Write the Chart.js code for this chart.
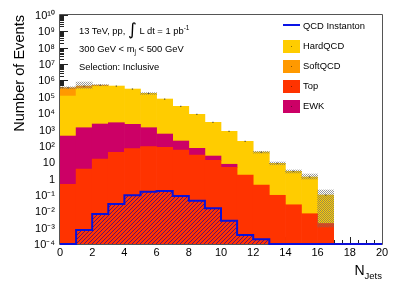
<!DOCTYPE html>
<html><head><meta charset="utf-8">
<script src="https://cdn.jsdelivr.net/npm/chart.js@4.4.0/dist/chart.umd.min.js"></script>
<style>
html,body{margin:0;padding:0;background:#fff;}
#wrap{position:relative;width:398px;height:287px;font-family:"Liberation Sans",Arial,sans-serif;color:#000;overflow:hidden;}
canvas{position:absolute;left:0;top:0;}
.t{position:absolute;white-space:nowrap;font-size:9.4px;line-height:10px;}
.sp{position:relative;line-height:0;vertical-align:baseline;}
.box{position:absolute;width:16.5px;height:13px;}
</style></head><body>
<div id="wrap"><canvas id="c" width="398" height="287"></canvas></div>
<script>
// ---------------- data ----------------
const binCenters = [0.5,1.5,2.5,3.5,4.5,5.5,6.5,7.5,8.5,9.5,10.5,11.5,12.5,13.5,14.5,15.5,16.5,17.5,18.5,19.5];
const binEdges   = [0,1,2,3,4,5,6,7,8,9,10,11,12,13,14,15,16,17,18,19,20];
const xTicks = [0,2,4,6,8,10,12,14,16,18,20];
const yTickExps = [-4,-3,-2,-1,0,1,2,3,4,5,6,7,8,9,10];

const topVals  = [0.45, 3.8, 15.7, 40, 67, 89, 82, 56, 27.5, 13.1, 4.9, 1.65, 0.40, 0.095, 0.025, 0.0071, 0.0018, 0, 0, 0];
const ewkVals  = [398, 1280, 2150, 2560, 2010, 1200, 447, 142, 43, 10.8, 2.6, 0, 0, 0, 0, 0, 0, 0, 0, 0];
const hardVals = [110600, 328000, 453000, 452000, 296000, 162000, 72500, 25900, 8400, 2720, 767, 187, 41.6, 8.47, 2.75, 1.24, 0.097, 0, 0, 0];
const softVals = [247000, 126000, 60000, 0, 0, 0, 0, 0, 0, 0, 0, 0, 0, 0, 0, 0, 0, 0, 0, 0];
const instVals = [1e-4, 7.2e-4, 6.8e-3, 0.028, 0.095, 0.157, 0.174, 0.086, 0.044, 0.0152, 0.00265, 3.55e-4, 1.94e-4, 1e-4, 1e-4, 1e-4, 1e-4, 1e-4, 1e-4, 1e-4];
const bandLow  = [310000, 330000, 470000, null, null, 140000, null, null, null, null, null, null, 36, 7.0, 2.2, 0.94, 0.0011, null, null, null];
const bandHigh = [410000, 800000, 560000, null, null, 180000, null, null, null, null, null, null, 46, 10.3, 3.35, 1.9, 0.2, null, null, null];

const seriesNames = ['QCD Instanton','HardQCD','SoftQCD','Top','EWK'];
const seriesColors = ['#0a14e6','#ffcc00','#ff9900','#ff3300','#cc0066'];
const FONT = '"Liberation Sans", Arial, sans-serif';

// ---------------- patterns ----------------
function makeHatch(){
  const c=document.createElement('canvas'); c.width=4; c.height=4;
  const g=c.getContext('2d');
  g.fillStyle='rgba(255,51,0,1)'; g.fillRect(0,0,4,4);
  g.strokeStyle='rgba(30,0,160,0.7)'; g.lineWidth=1;
  g.beginPath(); g.moveTo(0,4); g.lineTo(4,0); g.moveTo(-1,1); g.lineTo(1,-1); g.moveTo(3,5); g.lineTo(5,3); g.stroke();
  return g.createPattern(c,'repeat');
}
function makeDots(){
  const c=document.createElement('canvas'); c.width=2; c.height=2;
  const g=c.getContext('2d');
  g.fillStyle='rgba(110,110,110,0.7)'; g.fillRect(0,0,1,1); g.fillRect(1,1,1,1);
  return g.createPattern(c,'repeat');
}
const SUP = {'-':'\u207B','0':'\u2070','1':'\u00B9','2':'\u00B2','3':'\u00B3','4':'\u2074','5':'\u2075','6':'\u2076','7':'\u2077','8':'\u2078','9':'\u2079'};
function expLabel(e){
  if (e===0) return '1';
  if (e===1) return '10';
  return '10' + String(e).split('').map(ch=>SUP[ch]).join('');
}

const pts = arr => binCenters.map((x,i)=>({x, y: arr[i]}));
const instPts = binEdges.map((x,i)=>({x, y: instVals[Math.min(i, instVals.length-1)]}));
const bandPts = binCenters.map((x,i)=> bandLow[i]==null ? {x, y: null} : {x, y:[bandLow[i], bandHigh[i]]});
const totalPts = binCenters.map((x,i)=>{ const s=topVals[i]+ewkVals[i]+hardVals[i]+softVals[i]; return {x, y: s>0 ? s : null}; });

const barCommon = {type:'bar', grouped:false, barPercentage:1, categoryPercentage:1, borderWidth:0};

const framePlugin = {
  id:'frame',
  beforeDatasetsDraw(chart){
    const {ctx, chartArea:a, scales:{x,y}} = chart;
    ctx.save();
    ctx.strokeStyle='#222'; ctx.lineWidth=1; ctx.beginPath();
    for (let k=0;k<=40;k++){
      const t=k*0.5; const px=Math.round(x.getPixelForValue(t))+0.5;
      const len=(k%4===0)?7:4;
      ctx.moveTo(px,a.bottom); ctx.lineTo(px,a.bottom-len);
    }
    for (let e=yTickExps[0]; e<yTickExps[yTickExps.length-1]; e++){
      for (let m=1;m<10;m++){
        const py=Math.round(y.getPixelForValue(m*Math.pow(10,e)))+0.5;
        const len=(m===1)?8:4;
        ctx.moveTo(a.left,py); ctx.lineTo(a.left+len,py);
      }
    }
    const pt=Math.round(y.getPixelForValue(Math.pow(10,yTickExps[yTickExps.length-1])))+0.5;
    ctx.moveTo(a.left,pt); ctx.lineTo(a.left+8,pt);
    ctx.stroke();
    ctx.strokeStyle='#555'; ctx.beginPath();
    ctx.moveTo(a.left-0.5,a.bottom+0.5); ctx.lineTo(a.right+0.5,a.bottom+0.5); ctx.stroke();
    ctx.restore();
  },
  afterDatasetsDraw(chart){
    const {ctx, chartArea:a} = chart;
    ctx.save(); ctx.strokeStyle='#555'; ctx.lineWidth=1; ctx.beginPath();
    ctx.moveTo(a.left-0.5,a.bottom+0.5); ctx.lineTo(a.left-0.5,a.top-0.5); ctx.lineTo(a.right+0.5,a.top-0.5); ctx.lineTo(a.right+0.5,a.bottom+0.5);
    ctx.stroke(); ctx.restore();
  }
};

new Chart(document.getElementById('c'), {
  type:'bar',
  data:{ datasets:[
    {type:'line', label:'total', data:totalPts, showLine:false, pointStyle:'rect', pointRadius:0.9, pointBorderWidth:0, pointBackgroundColor:'rgba(60,60,60,0.8)', stack:'tot'},
    {type:'line', label:seriesNames[0], data:instPts, stepped:true, borderColor:'#0c10d8', borderWidth:2, pointRadius:0, fill:'start', backgroundColor:makeHatch(), stack:'inst', clip:3},
    Object.assign({label:'band', data:bandPts, backgroundColor:makeDots(), stack:'band'}, barCommon),
    Object.assign({label:seriesNames[3], data:pts(topVals),  backgroundColor:seriesColors[3]}, barCommon),
    Object.assign({label:seriesNames[4], data:pts(ewkVals),  backgroundColor:seriesColors[4]}, barCommon),
    Object.assign({label:seriesNames[1], data:pts(hardVals), backgroundColor:seriesColors[1]}, barCommon),
    Object.assign({label:seriesNames[2], data:pts(softVals), backgroundColor:seriesColors[2]}, barCommon)
  ]},
  options:{
    responsive:false, animation:false, devicePixelRatio:1,
    layout:{padding:{left:0, top:15, right:16, bottom:0}},
    plugins:{legend:{display:false}, tooltip:{enabled:false}},
    scales:{
      x:{type:'linear', min:0, max:20, offset:false,
        grid:{display:false, drawTicks:false}, border:{display:false},
        afterBuildTicks(s){ s.ticks = xTicks.map(v=>({value:v})); },
        ticks:{autoSkip:false, padding:2, maxRotation:0, color:'#000', font:{family:FONT, size:11}},
        afterFit(s){ s.height = 43; }
      },
      y:{type:'logarithmic', min:1e-4, max:1e10, stacked:true,
        grid:{display:false, drawTicks:false}, border:{display:false},
        afterBuildTicks(s){ s.ticks = yTickExps.map(e=>({value:Math.pow(10,e)})); },
        ticks:{autoSkip:false, padding:5, labelOffset:1, color:'#000', font:{family:FONT, size:11},
          callback(v){ return expLabel(Math.round(Math.log10(v))); }},
        title:{display:true, text:'Number of Events', align:'end', color:'#000', font:{family:FONT, size:14.6}, padding:{top:11, bottom:0}},
        afterFit(s){ s.width = 60; }
      }
    }
  },
  plugins:[framePlugin]
});

// ---------------- text overlays ----------------
const wrap = document.getElementById('wrap');
function addDiv(html, style, cls){
  const d=document.createElement('div'); d.className=cls||'t'; d.innerHTML=html; d.setAttribute('style', style); wrap.appendChild(d); return d;
}
addDiv('13 TeV, pp, <span class="sp" style="font-family:\'DejaVu Sans\';font-size:17px;top:1px;">\u222B</span> L dt = 1 pb<span class="sp" style="font-size:6.5px;top:-4px;">-1</span>', 'left:79px;top:25.5px;');
addDiv('300 GeV &lt; m<span class="sp" style="font-size:6.5px;top:2.5px;">j</span> &lt; 500 GeV', 'left:79px;top:43.8px;');
addDiv('Selection: Inclusive', 'left:79px;top:61.8px;');

const legTop = 29.4, legStep = 20;
seriesNames.forEach((name,i)=>{
  const base = legTop + i*legStep;
  if (i===0){
    addDiv('', 'left:283px;top:'+(base-5.4)+'px;width:16.5px;height:2px;background:'+seriesColors[0]+';', 'box');
  } else {
    addDiv('<div style="position:absolute;left:7.5px;top:6px;width:1px;height:1px;background:rgba(0,0,0,0.45)"></div>', 'left:283px;top:'+(base-9.9)+'px;background:'+seriesColors[i]+';', 'box');
  }
  addDiv(name, 'left:303px;top:'+(base-8.26)+'px;');
});

addDiv('N<span class="sp" style="font-size:9.5px;top:3.5px;">Jets</span>', 'right:16px;top:263px;font-size:14px;line-height:14px;');
</script>
</body></html>
